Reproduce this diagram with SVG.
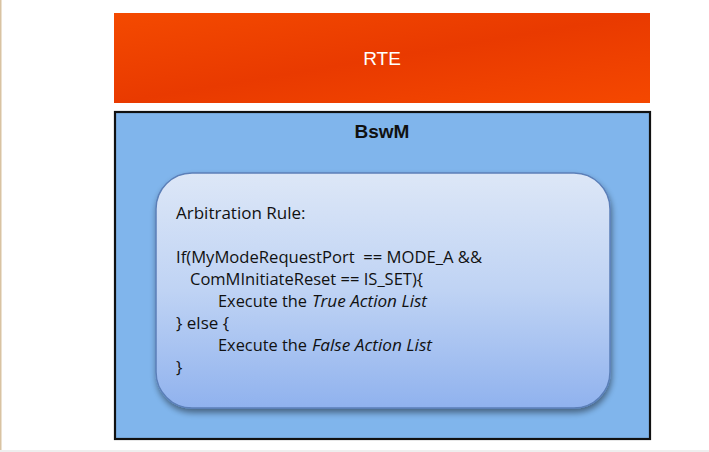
<svg xmlns="http://www.w3.org/2000/svg" width="709" height="452" viewBox="0 0 709 452">
  <style>
    .code { font-family: "Open Sans", "Noto Sans", sans-serif; font-size: 17px; fill: #111; white-space: pre; }
    .it { font-style: italic; }
  </style>
  <defs>
    <linearGradient id="rteFill" x1="0" y1="0" x2="1" y2="1">
      <stop offset="0" stop-color="#F44A00"/>
      <stop offset="0.5" stop-color="#E93A00"/>
      <stop offset="1" stop-color="#F54800"/>
    </linearGradient>
    <linearGradient id="ruleFill" x1="0" y1="0" x2="0" y2="1">
      <stop offset="0" stop-color="#DDE7F7"/>
      <stop offset="0.5" stop-color="#BFD3F4"/>
      <stop offset="1" stop-color="#90B2EE"/>
    </linearGradient>
    <filter id="shadow" x="-10%" y="-10%" width="120%" height="125%">
      <feGaussianBlur in="SourceAlpha" stdDeviation="3"/>
      <feOffset dx="1" dy="4" result="b"/>
      <feComponentTransfer><feFuncA type="linear" slope="0.45"/></feComponentTransfer>
      <feMerge><feMergeNode/><feMergeNode in="SourceGraphic"/></feMerge>
    </filter>
  </defs>

  <rect width="709" height="452" fill="#FFFFFF"/>
  <rect x="0" y="0" width="1.5" height="452" fill="#D9C3A2"/>
  <rect x="0" y="450" width="709" height="2" fill="#EEEEEE"/>

  <g id="rte">
    <rect x="114" y="13" width="536" height="90" fill="url(#rteFill)"/>
    <text x="382" y="65" text-anchor="middle" font-family="Liberation Sans, Arial, sans-serif" font-size="19" fill="#FFFFFF">RTE</text>
  </g>

  <g id="bswm">
    <rect x="115" y="112" width="535" height="327" fill="#80B5EC" stroke="#111111" stroke-width="2.2"/>
    <text x="382" y="138" text-anchor="middle" font-family="Liberation Sans, Arial, sans-serif" font-size="19" font-weight="bold" fill="#111">BswM</text>
  </g>

  <g id="arbitration-rule">
    <rect x="156" y="173" width="454" height="235" rx="36" ry="36" fill="url(#ruleFill)" stroke="#5B7FB8" stroke-width="1.5" filter="url(#shadow)"/>
    <text class="code" x="176" y="219">Arbitration Rule:</text>
    <text class="code" x="176" y="263" textLength="306" lengthAdjust="spacingAndGlyphs">If(MyModeRequestPort  == MODE_A &amp;&amp;</text>
    <text class="code" x="190" y="285" textLength="233" lengthAdjust="spacingAndGlyphs">ComMInitiateReset == IS_SET){</text>
    <text class="code" x="218" y="307" textLength="89" lengthAdjust="spacingAndGlyphs">Execute the</text>
    <text class="code it" x="312" y="307" textLength="115" lengthAdjust="spacingAndGlyphs">True Action List</text>
    <text class="code" x="176" y="329">} else {</text>
    <text class="code" x="218" y="351" textLength="89" lengthAdjust="spacingAndGlyphs">Execute the</text>
    <text class="code it" x="312" y="351" textLength="120" lengthAdjust="spacingAndGlyphs">False Action List</text>
    <text class="code" x="176" y="373">}</text>
  </g>
</svg>
